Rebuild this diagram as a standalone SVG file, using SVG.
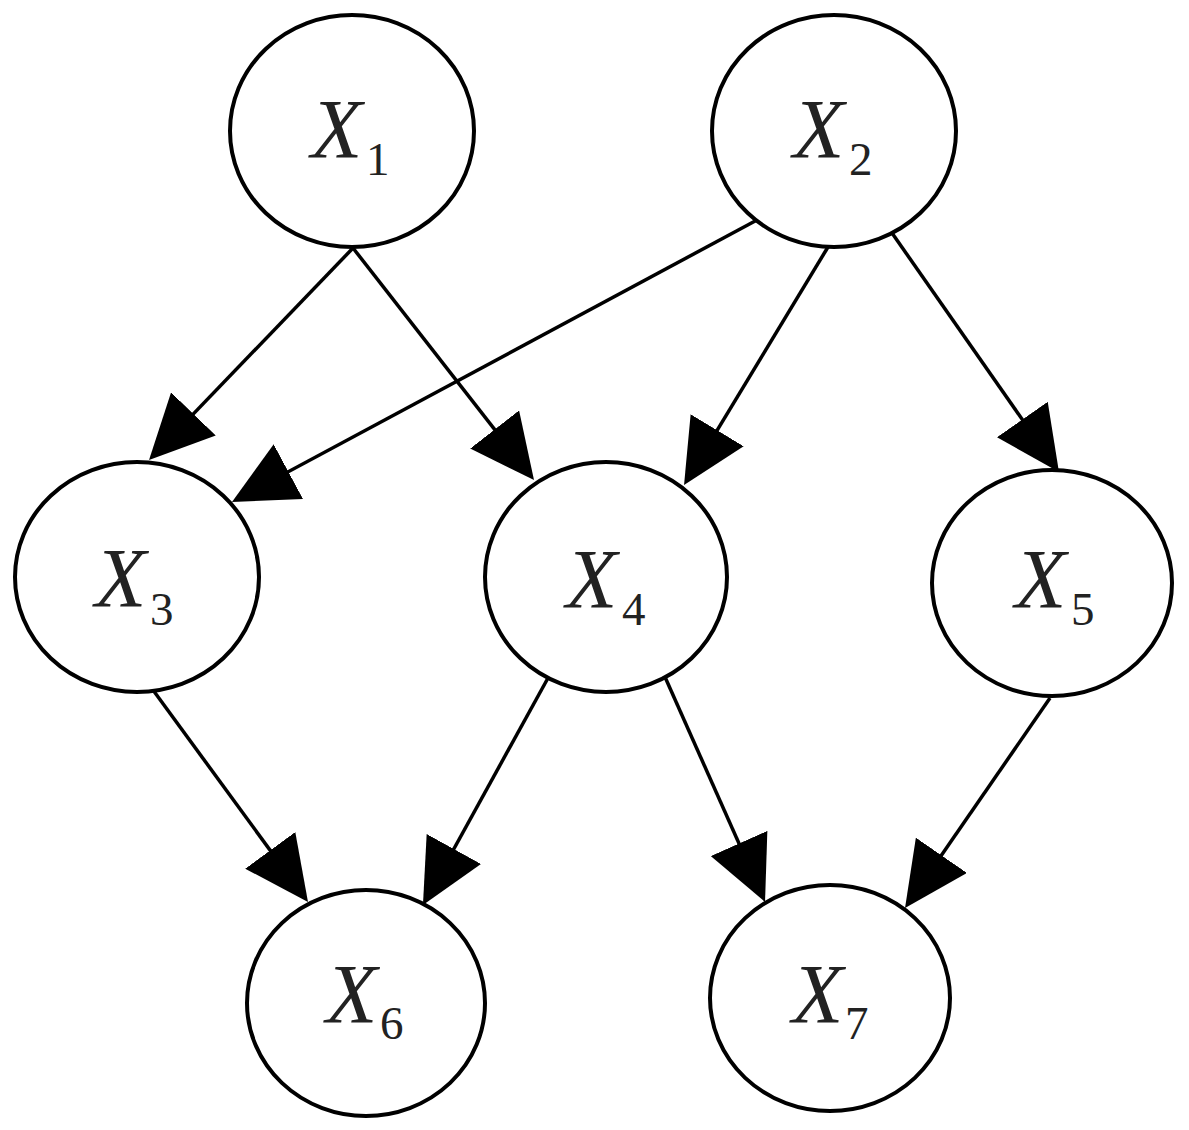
<svg xmlns="http://www.w3.org/2000/svg" width="1189" height="1130" viewBox="0 0 1189 1130">
<style>
.node ellipse{fill:#fff;stroke:#000;stroke-width:4}
.lbl{font-family:"Liberation Serif","Times New Roman",serif;font-style:italic;font-size:84px;fill:#222}
.sub{font-style:normal;font-size:47px}
.edge{stroke:#000;stroke-width:3.5;fill:none;marker-end:url(#ah)}
</style>
<defs>
<marker id="ah" viewBox="0 0 64 62" markerWidth="64" markerHeight="62" refX="44" refY="31" orient="auto" markerUnits="userSpaceOnUse">
<path d="M0,0 L64,31 L0,62 Z" fill="#000"/>
</marker>
</defs>
<rect width="1189" height="1130" fill="#fff"/>
<g id="connectors">
<line class="edge" x1="353" y1="248" x2="162.9" y2="445.6"/>
<line class="edge" x1="353" y1="248" x2="521.7" y2="464.2"/>
<line class="edge" x1="757" y1="220" x2="249.6" y2="492.5"/>
<line class="edge" x1="828" y1="247" x2="694.4" y2="467.9"/>
<line class="edge" x1="892" y1="233" x2="1047.5" y2="455.6"/>
<line class="edge" x1="153" y1="690" x2="296.2" y2="885.9"/>
<line class="edge" x1="548" y1="678" x2="432.6" y2="887.5"/>
<line class="edge" x1="665" y1="677" x2="756.9" y2="883.7"/>
<line class="edge" x1="1050" y1="698" x2="916.4" y2="891.5"/>
</g>
<g id="X1" class="node"><ellipse cx="352" cy="131" rx="122" ry="116"/><text class="lbl" x="311" y="158">X<tspan class="sub" x="366" y="175">1</tspan></text></g>
<g id="X2" class="node"><ellipse cx="834" cy="131" rx="122" ry="116"/><text class="lbl" x="793" y="158">X<tspan class="sub" x="849" y="175">2</tspan></text></g>
<g id="X3" class="node"><ellipse cx="137" cy="577" rx="122" ry="115"/><text class="lbl" x="95" y="607">X<tspan class="sub" x="150" y="625">3</tspan></text></g>
<g id="X4" class="node"><ellipse cx="606" cy="577" rx="121" ry="115"/><text class="lbl" x="566" y="608">X<tspan class="sub" x="622" y="625">4</tspan></text></g>
<g id="X5" class="node"><ellipse cx="1052" cy="583" rx="120" ry="113"/><text class="lbl" x="1015" y="608">X<tspan class="sub" x="1071" y="625">5</tspan></text></g>
<g id="X6" class="node"><ellipse cx="366" cy="1003" rx="119" ry="113"/><text class="lbl" x="326" y="1023">X<tspan class="sub" x="380" y="1039">6</tspan></text></g>
<g id="X7" class="node"><ellipse cx="830" cy="998" rx="120" ry="113"/><text class="lbl" x="792" y="1023">X<tspan class="sub" x="845" y="1039">7</tspan></text></g>
</svg>
